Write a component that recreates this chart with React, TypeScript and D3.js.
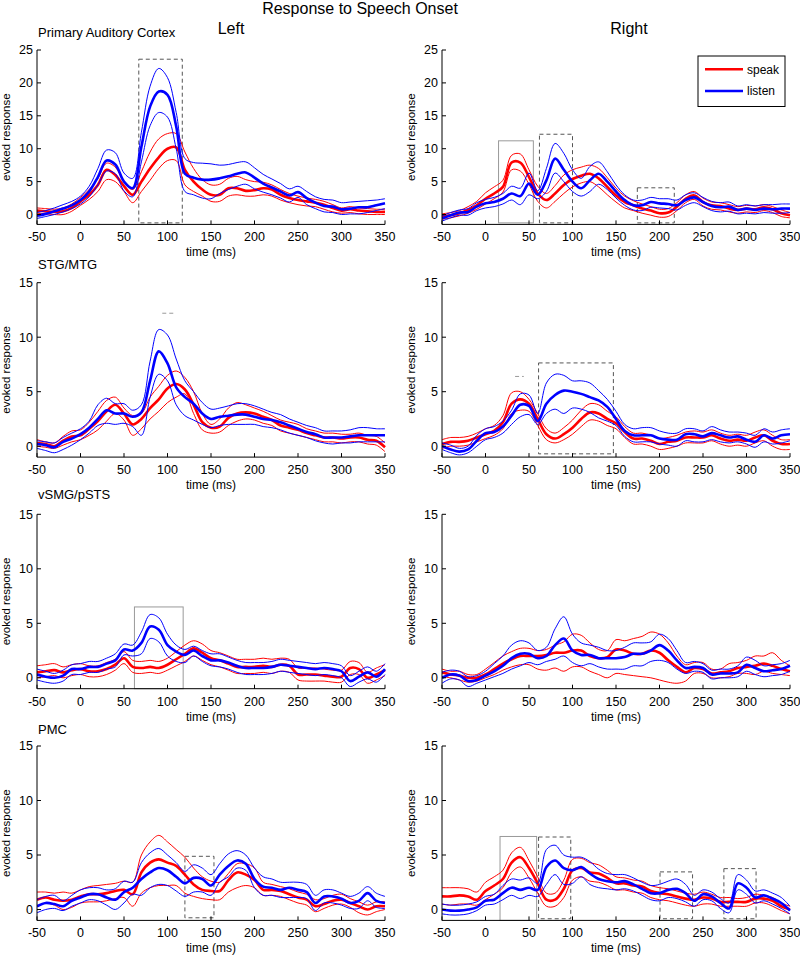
import * as d3 from "d3";

// time grid (ms) shared by every trace
const TIMES = [
  -50, -40, -30, -20, -10, 0, 10, 20, 30, 40, 50, 60, 70, 80, 90, 100, 110, 120, 130, 140, 150,
  160, 170, 180, 190, 200, 210, 220, 230, 240, 250, 260, 270, 280, 290, 300, 310, 320, 330, 340, 350,
];
const X_TICKS = [-50, 0, 50, 100, 150, 200, 250, 300, 350];
const Y_TICKS_PAC = [0, 5, 10, 15, 20, 25];
const Y_TICKS = [0, 5, 10, 15];
const REGIONS = ["Primary Auditory Cortex", "STG/MTG", "vSMG/pSTS", "PMC"];
const HEMISPHERES = ["Left", "Right"];
const SERIES = ["speak", "listen"];

// ---- Primary auditory cortex, left
const PAC_L_SPEAK = [0.6,0.5,0.4,0.5,1.0,2.0,3.0,4.5,6.8,6.0,4.3,3.0,5.0,7.0,8.7,10.0,10.2,6.8,5.0,3.8,3.0,3.0,4.0,4.0,3.6,3.7,4.0,3.8,3.0,2.5,2.2,2.0,1.8,1.5,1.0,0.6,0.8,0.6,0.5,0.4,0.4];
const PAC_L_SPEAK_HI = [1.0,0.9,0.8,1.0,1.6,2.6,3.8,5.5,7.8,7.2,5.0,3.8,6.5,9.5,11.5,12.3,12.3,9.5,7.0,5.3,4.5,4.6,5.5,5.8,5.3,5.0,4.9,4.5,3.8,3.2,2.8,2.5,2.3,2.0,1.5,1.0,1.2,1.0,0.9,0.8,0.8];
const PAC_L_SPEAK_LO = [0.2,0.1,0.0,0.0,0.5,1.4,2.3,3.5,5.3,5.0,3.5,1.8,3.5,5.2,7.0,8.2,8.2,4.5,3.5,2.8,2.0,2.0,2.8,3.0,2.8,2.8,3.0,2.8,2.2,1.8,1.5,1.3,1.2,0.8,0.4,0.2,0.3,0.1,0.0,0.0,0.0];
const PAC_L_LISTEN = [-0.2,0.1,0.5,0.9,1.4,2.2,3.5,5.7,8.2,7.6,5.0,4.0,10.3,16.4,18.7,18.2,13.4,6.2,5.6,5.3,5.3,5.5,5.8,6.2,6.4,5.6,4.7,4.1,3.5,2.9,3.4,2.5,1.8,1.3,1.2,0.8,0.9,1.1,1.1,1.4,1.7];
const PAC_L_LISTEN_HI = [0.3,0.6,1.0,1.5,2.0,2.8,4.3,7.0,9.8,9.4,6.3,5.5,12.5,19.5,22.2,20.8,15.5,8.5,7.9,7.8,7.7,7.5,7.6,7.9,8.0,7.1,6.1,5.4,4.7,3.9,4.3,3.5,2.7,2.3,2.2,1.8,1.9,2.0,2.1,2.2,2.4];
const PAC_L_LISTEN_LO = [-0.6,-0.3,0.0,0.4,0.9,1.6,2.7,4.5,6.6,6.2,3.6,2.7,8.0,13.5,15.5,14.8,10.0,3.5,3.0,2.5,2.4,3.2,3.8,4.3,4.6,3.9,3.4,3.0,2.5,1.9,2.6,1.5,0.9,0.4,0.3,0.0,0.1,0.1,0.3,0.6,0.9];

// ---- Primary auditory cortex, right
const PAC_R_SPEAK = [-0.3,-0.1,0.2,0.7,1.4,2.4,3.2,4.2,7.9,7.9,5.7,3.2,2.2,3.2,4.5,5.4,5.9,6.2,5.5,4.2,2.9,1.9,1.4,0.9,0.6,0.2,0.3,1.2,2.4,2.9,1.9,1.4,1.3,0.9,0.7,0.9,0.8,1.1,0.8,0.2,-0.1];
const PAC_R_SPEAK_HI = [0.1,0.3,0.6,1.2,2.0,3.3,4.2,5.2,9.0,9.2,6.8,4.3,3.2,4.4,6.0,6.8,7.2,7.5,7.0,5.6,4.0,2.8,2.1,1.6,1.2,0.8,0.9,1.8,3.0,3.5,2.5,1.9,1.8,1.5,1.2,1.4,1.3,1.5,1.2,0.7,0.3];
const PAC_R_SPEAK_LO = [-0.7,-0.5,-0.2,0.2,0.8,1.6,2.4,3.4,6.8,6.6,4.6,2.0,1.0,2.0,3.2,4.2,4.8,5.0,4.2,3.0,1.9,1.0,0.6,0.2,-0.1,-0.4,-0.3,0.6,1.8,2.3,1.3,0.8,0.7,0.4,0.2,0.4,0.3,0.6,0.3,-0.3,-0.5];
const PAC_R_LISTEN = [-0.6,-0.1,0.3,0.4,1.2,1.7,1.9,2.4,3.2,2.8,4.7,3.0,5.2,8.5,6.8,5.0,4.0,5.2,6.2,5.0,3.5,2.2,1.4,1.4,1.9,1.7,1.6,1.4,2.2,2.6,1.9,1.3,1.1,1.2,0.7,0.9,0.7,0.9,0.8,0.9,0.9];
const PAC_R_LISTEN_HI = [-0.2,0.3,0.7,0.9,1.8,2.3,2.6,3.2,4.3,4.0,6.3,3.6,7.0,10.8,9.3,6.8,5.5,7.3,8.0,6.5,4.5,3.0,2.2,2.2,2.6,2.4,2.4,2.2,3.0,3.3,2.6,2.0,1.8,1.9,1.3,1.5,1.3,1.5,1.5,1.6,1.6];
const PAC_R_LISTEN_LO = [-1.0,-0.5,-0.1,-0.1,0.6,1.0,1.2,1.6,2.2,1.5,3.0,2.4,3.5,6.3,5.0,3.5,2.8,3.5,4.6,3.8,2.5,1.4,0.7,0.6,1.1,1.0,0.9,0.7,1.4,1.8,1.2,0.6,0.4,0.5,0.1,0.2,0.1,0.3,0.2,0.2,0.3];

// ---- STG/MTG, left
const STG_L_SPEAK = [0.3,0.2,0.0,0.5,0.9,1.0,1.6,2.3,3.2,3.8,3.0,2.0,2.5,3.5,4.3,5.3,5.7,5.2,3.8,2.2,1.7,1.8,2.6,3.0,3.1,3.0,2.7,2.4,1.9,1.7,1.5,1.2,1.0,0.8,0.8,0.7,0.8,0.8,0.6,0.5,-0.1];
const STG_L_SPEAK_HI = [0.6,0.4,0.3,0.9,1.4,1.5,2.2,3.2,4.2,4.5,3.5,2.8,3.0,4.5,5.5,6.5,6.9,6.3,5.0,3.0,2.0,2.5,3.5,4.0,3.8,3.5,3.2,2.8,2.4,2.2,2.0,1.6,1.4,1.2,1.2,1.1,1.1,1.2,1.0,0.9,0.3];
const STG_L_SPEAK_LO = [0.0,-0.1,-0.2,0.1,0.4,0.6,1.0,1.5,2.3,3.0,2.4,1.0,1.6,2.5,3.2,4.0,4.5,4.8,3.0,1.5,1.2,1.3,1.9,2.3,2.5,2.4,2.1,1.9,1.4,1.2,1.0,0.8,0.6,0.4,0.4,0.3,0.4,0.4,0.2,0.1,-0.5];
const STG_L_LISTEN = [0.2,0.1,-0.1,0.4,0.7,1.1,1.7,2.5,3.3,3.0,3.0,2.7,3.1,6.0,8.7,7.6,5.4,4.5,3.9,3.0,2.5,2.7,2.8,2.9,2.9,2.7,2.5,2.4,2.2,1.9,1.6,1.3,1.1,0.8,0.8,0.8,0.9,1.0,1.0,1.0,1.0];
const STG_L_LISTEN_HI = [0.5,0.4,0.3,0.8,1.2,1.6,2.3,3.8,4.4,3.9,3.9,3.3,3.8,7.8,10.7,10.2,8.0,6.0,5.0,4.0,3.4,3.5,3.7,3.9,3.9,3.7,3.4,3.1,2.9,2.5,2.2,1.9,1.7,1.4,1.4,1.4,1.5,1.7,1.7,1.6,1.6];
const STG_L_LISTEN_LO = [-0.2,-0.4,-0.6,-0.3,0.1,0.6,1.2,1.9,2.1,2.0,2.1,1.8,1.0,4.5,6.6,6.0,3.8,2.8,2.4,2.0,1.7,1.9,2.0,2.0,2.0,2.0,1.8,1.7,1.5,1.2,1.0,0.8,0.5,0.3,0.2,0.3,0.3,0.4,0.4,0.4,0.4];

// ---- STG/MTG, right
const STG_R_SPEAK = [0.2,0.4,0.4,0.5,0.8,1.1,1.4,2.2,3.9,4.3,3.9,2.5,1.1,0.7,1.1,1.7,2.5,3.1,3.0,2.5,2.1,1.3,0.7,0.7,0.5,0.2,0.4,0.5,0.8,0.8,0.8,1.0,0.7,0.5,0.6,0.5,0.8,1.0,0.5,0.2,0.2];
const STG_R_SPEAK_HI = [0.6,0.8,0.8,0.9,1.2,1.6,1.9,2.8,4.9,5.0,4.3,3.0,1.6,1.2,1.7,2.4,3.3,3.9,3.8,3.2,2.7,1.8,1.2,1.2,1.0,0.7,0.8,1.0,1.3,1.4,1.3,1.5,1.2,1.0,1.1,1.0,1.3,1.5,1.0,0.6,0.6];
const STG_R_SPEAK_LO = [-0.2,0.0,0.0,0.1,0.4,0.7,1.0,1.6,3.0,3.3,3.2,1.9,0.6,0.3,0.6,1.1,1.8,2.4,2.3,1.9,1.6,0.8,0.2,0.2,0.0,-0.3,-0.2,0.0,0.3,0.3,0.3,0.5,0.2,0.0,0.1,0.0,0.3,0.5,0.0,-0.3,-0.3];
const STG_R_LISTEN = [0.0,-0.3,-0.5,-0.3,0.5,1.2,1.3,1.8,2.8,3.8,3.7,2.3,3.9,4.7,5.1,5.0,4.8,4.5,4.2,3.6,2.5,1.4,1.0,1.0,1.0,0.7,0.6,0.6,1.1,1.1,0.9,1.2,1.0,0.8,0.9,0.6,0.4,1.0,0.7,1.0,1.1];
const STG_R_LISTEN_HI = [0.3,0.1,-0.2,0.0,1.0,1.6,1.8,2.3,3.3,4.8,4.7,3.0,5.8,6.6,6.5,6.0,6.0,5.8,5.1,4.3,3.2,2.0,1.6,1.7,1.7,1.4,1.2,1.2,1.6,1.6,1.4,1.8,1.5,1.3,1.3,1.2,1.0,1.6,1.3,1.5,1.6];
const STG_R_LISTEN_LO = [-0.3,-0.6,-0.8,-0.6,0.0,0.6,0.8,1.2,2.0,2.7,2.9,2.0,3.0,3.4,3.0,3.5,3.4,3.1,2.6,2.3,1.9,0.9,0.4,0.4,0.4,0.2,0.1,0.0,0.5,0.4,0.4,0.6,0.4,0.3,0.4,0.2,-0.1,0.4,0.2,0.3,0.5];

// ---- vSMG/pSTS, left
const SMG_L_SPEAK = [0.5,0.6,0.7,0.5,0.7,0.8,0.6,0.6,0.8,1.2,1.8,1.0,0.9,1.0,0.9,1.2,1.7,2.2,2.7,2.3,1.8,1.6,1.3,1.0,1.0,1.0,1.1,1.0,1.2,1.1,0.3,0.3,0.3,0.2,0.1,0.1,0.9,0.8,0.0,0.3,0.7];
const SMG_L_SPEAK_HI = [1.1,1.2,1.3,1.0,1.2,1.3,1.1,1.1,1.4,1.7,2.4,1.6,1.5,1.6,1.5,1.8,2.4,3.0,3.4,3.1,2.5,2.3,2.0,1.7,1.7,1.7,1.8,1.7,1.8,1.7,0.9,0.9,0.9,0.8,0.7,0.7,1.5,1.4,0.5,0.9,1.2];
const SMG_L_SPEAK_LO = [0.0,0.1,0.2,0.0,0.2,0.3,0.1,0.1,0.3,0.7,1.3,0.5,0.4,0.5,0.4,0.7,1.1,1.5,2.0,1.6,1.2,1.0,0.7,0.4,0.4,0.4,0.5,0.4,0.6,0.5,-0.2,-0.3,-0.3,-0.3,-0.4,-0.4,0.3,0.3,-0.5,-0.2,0.2];
const SMG_L_LISTEN = [0.3,0.1,0.0,0.2,0.8,0.8,1.0,1.0,1.3,1.6,2.6,2.5,3.2,4.7,4.4,3.0,2.4,2.1,2.5,2.0,1.6,1.6,1.4,1.1,0.9,0.9,0.9,1.0,1.2,1.1,1.0,0.9,0.8,0.9,0.8,0.6,-0.3,0.1,0.5,0.1,0.8];
const SMG_L_LISTEN_HI = [0.8,0.6,0.4,0.7,1.2,1.3,1.5,1.5,1.8,2.2,3.1,3.0,4.2,5.8,5.5,4.0,3.0,2.6,2.9,2.5,2.2,2.2,1.9,1.6,1.4,1.4,1.4,1.5,1.7,1.6,1.5,1.4,1.3,1.4,1.3,1.1,0.2,0.6,1.0,0.6,1.3];
const SMG_L_LISTEN_LO = [-0.2,-0.4,-0.5,-0.3,0.3,0.3,0.5,0.5,0.8,1.0,2.1,2.0,2.2,3.6,3.3,2.0,1.5,1.4,2.0,1.5,1.1,1.0,0.8,0.5,0.3,0.3,0.3,0.4,0.6,0.5,0.4,0.3,0.2,0.3,0.2,0.0,-0.8,-0.4,-0.1,-0.4,0.3];

// ---- vSMG/pSTS, right
const SMG_R_SPEAK = [0.5,0.3,0.2,0.0,0.0,0.3,0.8,1.3,1.7,2.0,2.0,2.0,2.1,2.3,2.3,2.5,2.5,2.0,1.8,1.9,2.6,2.5,2.2,2.2,2.5,2.3,1.6,1.0,0.5,0.9,0.8,0.4,0.5,0.6,0.9,1.0,1.1,1.3,1.1,0.8,0.6];
const SMG_R_SPEAK_HI = [0.8,0.6,0.6,0.3,0.3,0.8,1.4,2.0,2.4,2.7,2.7,2.5,2.6,3.0,3.3,4.0,3.9,3.2,2.6,2.5,3.5,3.4,3.6,3.8,4.2,4.0,3.2,2.0,1.2,1.4,1.4,0.8,0.8,1.3,1.4,1.6,2.0,2.0,2.3,1.6,1.1];
const SMG_R_SPEAK_LO = [0.1,0.0,-0.2,-0.4,-0.3,0.0,0.3,0.7,1.0,1.2,1.2,0.8,0.7,0.9,0.6,1.0,1.0,0.6,0.3,0.0,0.4,0.3,0.2,0.1,0.0,-0.2,-0.4,-0.5,-0.3,0.4,0.4,0.0,0.0,0.1,0.4,0.4,0.3,0.6,0.4,0.3,0.2];
const SMG_R_LISTEN = [0.0,0.3,0.2,-0.3,-0.2,0.2,0.6,1.1,1.8,2.2,2.2,1.8,2.0,3.0,3.6,2.5,2.1,2.1,1.8,1.8,1.8,1.9,2.2,2.2,2.5,3.0,2.5,1.6,0.9,1.0,0.9,0.3,0.4,0.4,0.5,1.2,0.9,0.6,0.7,0.8,1.1];
const SMG_R_LISTEN_HI = [0.5,0.7,0.6,0.1,0.2,0.6,1.3,2.0,3.0,3.4,3.2,2.5,2.8,4.5,5.6,4.0,3.2,3.0,2.8,2.5,2.5,2.8,3.2,3.2,3.3,4.0,3.6,2.5,1.4,1.5,1.3,0.7,0.8,0.8,1.1,1.9,1.6,1.1,1.2,1.3,1.6];
const SMG_R_LISTEN_LO = [-0.5,-0.1,-0.2,-0.8,-0.5,-0.2,0.1,0.4,0.8,1.1,1.4,1.2,1.5,1.7,2.0,1.4,1.1,1.3,1.0,0.8,0.8,0.8,1.1,1.1,1.5,1.6,1.4,0.8,0.4,0.6,0.5,-0.1,0.0,0.0,0.1,0.6,0.3,0.1,0.2,0.3,0.6];

// ---- PMC, left
const PMC_L_SPEAK = [0.9,1.1,0.9,0.8,0.9,1.2,1.4,1.4,1.5,1.7,1.8,1.4,3.4,4.3,4.6,4.3,4.0,3.2,2.3,1.8,1.7,1.7,2.7,3.4,3.2,2.7,1.8,1.8,1.7,1.4,1.1,0.9,0.3,0.5,0.8,0.9,0.6,0.3,0.0,0.3,0.3];
const PMC_L_SPEAK_HI = [1.6,1.6,1.5,1.6,1.5,1.8,2.1,2.2,2.3,2.4,2.6,2.5,5.0,6.2,6.8,6.2,5.5,4.8,3.8,3.0,2.6,2.5,3.3,4.2,4.2,3.8,2.5,2.3,2.1,1.9,1.6,1.4,0.9,1.0,1.3,1.4,1.0,0.7,0.4,0.7,0.7];
const PMC_L_SPEAK_LO = [0.3,0.6,0.4,0.0,0.2,0.6,0.7,0.7,0.8,1.0,1.1,0.3,1.5,2.0,2.2,2.2,2.2,1.5,1.2,1.0,0.9,0.9,1.6,2.0,2.2,2.0,1.3,1.3,1.2,0.9,0.6,0.4,-0.2,0.1,0.4,0.5,0.2,-0.3,-0.5,-0.2,0.0];
const PMC_L_LISTEN = [0.3,0.6,0.5,0.3,0.8,1.1,1.4,1.4,1.1,0.9,1.6,2.0,2.8,3.4,3.8,3.6,3.0,2.4,2.9,2.8,2.2,3.2,4.0,4.5,4.2,2.8,2.1,2.0,1.8,2.0,1.8,1.6,0.6,1.2,1.2,1.0,0.6,0.8,1.5,0.8,0.6];
const PMC_L_LISTEN_HI = [0.9,1.2,1.3,0.8,1.3,1.8,2.0,2.0,1.8,1.9,2.6,2.5,4.3,5.2,5.6,5.0,4.3,3.5,4.1,3.8,3.2,4.2,5.1,5.4,5.0,3.8,3.0,2.8,2.5,2.5,2.5,2.3,1.3,1.8,1.8,1.5,1.2,1.5,2.1,1.5,1.2];
const PMC_L_LISTEN_LO = [-0.3,0.0,0.1,-0.1,0.3,0.6,0.9,0.8,0.4,0.0,0.6,1.4,1.3,2.0,2.3,2.2,1.7,1.2,1.6,1.6,1.3,2.5,3.0,3.8,3.6,2.0,1.3,1.3,1.1,1.1,1.1,1.0,-0.1,0.6,0.6,0.4,0.1,0.1,0.8,0.2,0.1];

// ---- PMC, right
const PMC_R_SPEAK = [1.2,1.2,1.3,1.2,0.9,1.7,2.2,2.8,4.3,4.8,3.8,2.4,0.9,0.9,1.9,3.6,3.8,3.4,3.3,2.9,2.4,2.4,2.2,2.1,1.7,1.5,1.4,1.2,1.0,0.9,1.1,1.0,0.7,0.7,0.7,0.7,1.0,1.0,0.8,0.3,0.0];
const PMC_R_SPEAK_HI = [2.0,2.0,2.0,1.9,1.6,2.5,3.0,3.6,5.2,5.7,4.5,3.0,1.5,1.5,2.7,4.6,4.7,4.3,4.1,3.6,3.0,2.9,2.7,2.6,2.2,2.0,1.9,1.7,1.5,1.4,1.6,1.4,1.1,1.1,1.0,1.1,1.4,1.3,1.1,0.6,0.3];
const PMC_R_SPEAK_LO = [0.5,0.4,0.5,0.5,0.4,0.9,1.4,2.0,3.4,3.9,2.9,1.5,0.3,0.3,1.1,2.7,3.0,2.6,2.5,2.2,1.8,1.8,1.6,1.5,1.1,0.9,0.8,0.6,0.4,0.3,0.5,0.5,0.3,0.3,0.3,0.3,0.6,0.6,0.3,-0.1,-0.4];
const PMC_R_LISTEN = [0.0,-0.1,-0.1,0.0,0.2,0.8,0.9,1.5,2.0,1.8,2.0,1.8,3.9,4.5,3.8,3.6,3.9,3.3,2.8,2.6,2.5,2.6,2.3,1.9,1.5,1.5,1.8,1.9,1.5,0.8,1.4,1.2,0.6,0.1,2.4,2.0,1.1,1.3,1.0,0.6,-0.1];
const PMC_R_LISTEN_HI = [0.5,0.4,0.4,0.5,0.7,1.2,1.4,2.2,2.8,2.7,2.9,2.4,5.5,5.9,5.0,4.8,4.8,4.4,3.7,3.3,3.2,3.2,2.9,2.5,2.2,2.3,2.6,2.8,2.3,1.3,1.8,1.6,1.0,0.6,3.2,2.7,1.7,1.8,1.5,1.1,0.3];
const PMC_R_LISTEN_LO = [-0.4,-0.5,-0.5,-0.4,-0.1,0.4,0.5,0.9,1.3,1.0,1.3,1.2,2.3,3.2,2.3,2.4,3.0,2.3,2.0,1.9,1.8,1.9,1.7,1.3,0.9,0.8,1.1,1.0,0.7,0.3,0.9,0.8,0.1,-0.3,1.8,1.4,0.6,0.8,0.5,0.1,-0.4];

// significance windows: [start ms, end ms, top, bottom, dashed]
type Win = [number, number, number, number, boolean];
const PAC_L_WIN: Win[] = [[67, 117, 23.6, -1.27, true]];
const PAC_R_WIN: Win[] = [[15, 55, 11.2, -1.27, false], [62, 100, 12.2, -1.27, true], [174.5, 217, 4.06, -1.27, true]];
const STG_L_WIN: Win[] = [];
const STG_R_WIN: Win[] = [[61, 147, 7.64, -0.7, true]];
const SMG_L_WIN: Win[] = [[62, 118, 6.5, -1, false]];
const SMG_R_WIN: Win[] = [];
const PMC_L_WIN: Win[] = [[120, 153.4, 4.88, -0.76, true]];
const PMC_R_WIN: Win[] = [[16.7, 58.8, 6.7, -1, false], [61, 98, 6.65, -0.85, true], [200.6, 238, 3.45, -0.85, true], [274, 311, 3.75, -0.85, true]];
// small stray dash marks: [start ms, end ms, level]
const STG_L_DASH = [[94, 108, 12.2]];
const STG_R_DASH = [[34, 44, 6.4]];

const PANELS = [
  { row: 0, col: 0, speak: [PAC_L_SPEAK, PAC_L_SPEAK_HI, PAC_L_SPEAK_LO], listen: [PAC_L_LISTEN, PAC_L_LISTEN_HI, PAC_L_LISTEN_LO], win: PAC_L_WIN, dash: [] },
  { row: 0, col: 1, speak: [PAC_R_SPEAK, PAC_R_SPEAK_HI, PAC_R_SPEAK_LO], listen: [PAC_R_LISTEN, PAC_R_LISTEN_HI, PAC_R_LISTEN_LO], win: PAC_R_WIN, dash: [] },
  { row: 1, col: 0, speak: [STG_L_SPEAK, STG_L_SPEAK_HI, STG_L_SPEAK_LO], listen: [STG_L_LISTEN, STG_L_LISTEN_HI, STG_L_LISTEN_LO], win: STG_L_WIN, dash: STG_L_DASH },
  { row: 1, col: 1, speak: [STG_R_SPEAK, STG_R_SPEAK_HI, STG_R_SPEAK_LO], listen: [STG_R_LISTEN, STG_R_LISTEN_HI, STG_R_LISTEN_LO], win: STG_R_WIN, dash: STG_R_DASH },
  { row: 2, col: 0, speak: [SMG_L_SPEAK, SMG_L_SPEAK_HI, SMG_L_SPEAK_LO], listen: [SMG_L_LISTEN, SMG_L_LISTEN_HI, SMG_L_LISTEN_LO], win: SMG_L_WIN, dash: [] },
  { row: 2, col: 1, speak: [SMG_R_SPEAK, SMG_R_SPEAK_HI, SMG_R_SPEAK_LO], listen: [SMG_R_LISTEN, SMG_R_LISTEN_HI, SMG_R_LISTEN_LO], win: SMG_R_WIN, dash: [] },
  { row: 3, col: 0, speak: [PMC_L_SPEAK, PMC_L_SPEAK_HI, PMC_L_SPEAK_LO], listen: [PMC_L_LISTEN, PMC_L_LISTEN_HI, PMC_L_LISTEN_LO], win: PMC_L_WIN, dash: [] },
  { row: 3, col: 1, speak: [PMC_R_SPEAK, PMC_R_SPEAK_HI, PMC_R_SPEAK_LO], listen: [PMC_R_LISTEN, PMC_R_LISTEN_HI, PMC_R_LISTEN_LO], win: PMC_R_WIN, dash: [] },
];

// layout of the axes (pixels)
const COL_X = [[37, 385], [442, 790]];
const ROW_Y = [[50, 224.4], [282.7, 457.1], [514.3, 688.7], [746, 920.4]];
const RED = "#ff0000";
const BLUE = "#0000ff";
const FONT = "'Liberation Sans', Arial, Helvetica, sans-serif";

function Panel({ p }: { p: (typeof PANELS)[number] }) {
  const [x0, x1] = COL_X[p.col];
  const [top, bottom] = ROW_Y[p.row];
  const isPac = p.row === 0;
  const x = d3.scaleLinear().domain([-50, 350]).range([x0, x1]);
  const y = d3.scaleLinear().domain(isPac ? [-1.5, 25] : [-1, 15]).range([bottom, top]);
  const yTicks = isPac ? Y_TICKS_PAC : Y_TICKS;
  const line = d3
    .line<number>()
    .x((_, i) => x(TIMES[i]))
    .y((d) => y(d))
    .curve(d3.curveCatmullRom.alpha(0.5));
  const clipId = `clip-${p.row}-${p.col}`;
  const cx = (x0 + x1) / 2;

  return (
    <g>
      <defs>
        <clipPath id={clipId}>
          <rect x={x0} y={top - 2} width={x1 - x0 + 2} height={bottom - top + 2} />
        </clipPath>
      </defs>
      {p.win.map(([t0, t1, hi, lo, dashed], i) => (
        <rect
          key={i}
          x={x(t0)}
          y={y(hi)}
          width={x(t1) - x(t0)}
          height={y(lo) - y(hi)}
          fill="none"
          stroke={dashed ? "#555" : "#999"}
          strokeWidth={1}
          strokeDasharray={dashed ? "4,3" : undefined}
        />
      ))}
      {p.dash.map(([t0, t1, v], i) => (
        <line key={i} x1={x(t0)} x2={x(t1)} y1={y(v)} y2={y(v)} stroke="#999" strokeDasharray="4,3" />
      ))}
      <g clipPath={`url(#${clipId})`} fill="none" strokeLinejoin="round">
        {[p.speak, p.listen].map((s, k) => (
          <g key={k} stroke={k === 0 ? RED : BLUE}>
            <path d={line(s[1]) ?? ""} strokeWidth={1} />
            <path d={line(s[2]) ?? ""} strokeWidth={1} />
            <path d={line(s[0]) ?? ""} strokeWidth={2.6} />
          </g>
        ))}
      </g>
      {/* axes */}
      <line x1={x0} x2={x0} y1={top} y2={bottom} stroke="#000" />
      <line x1={x0} x2={x1} y1={bottom} y2={bottom} stroke="#000" />
      {yTicks.map((t) => (
        <g key={t}>
          <line x1={x0} x2={x0 + 4} y1={y(t)} y2={y(t)} stroke="#000" />
          <text x={x0 - 4} y={y(t)} dy="0.35em" textAnchor="end" fontSize={12.5}>
            {t}
          </text>
        </g>
      ))}
      {X_TICKS.map((t) => (
        <g key={t}>
          <line x1={x(t)} x2={x(t)} y1={bottom} y2={bottom - 4} stroke="#000" />
          <text x={x(t)} y={bottom + 17} textAnchor="middle" fontSize={12.5}>
            {t}
          </text>
        </g>
      ))}
      <text x={cx} y={bottom + 32} textAnchor="middle" fontSize={12}>
        time (ms)
      </text>
      <text
        transform={`translate(${x0 - 27},${(top + bottom) / 2}) rotate(-90)`}
        textAnchor="middle"
        fontSize={11.5}
      >
        evoked response
      </text>
    </g>
  );
}

export default function App() {
  const titleY = [37.3, 269.3, 499.3, 734];
  return (
    <svg
      width={800}
      height={956}
      style={{ position: "absolute", left: 0, top: 0, background: "#fff" }}
      fontFamily={FONT}
    >
      <rect width={800} height={956} fill="#fff" />
      <text x={360} y={13.5} textAnchor="middle" fontSize={16}>
        Response to Speech Onset
      </text>
      {HEMISPHERES.map((h, i) => (
        <text key={h} x={i === 0 ? 231 : 629} y={34} textAnchor="middle" fontSize={16}>
          {h}
        </text>
      ))}
      {REGIONS.map((r, i) => (
        <text key={r} x={38} y={titleY[i]} fontSize={13}>
          {r}
        </text>
      ))}
      {PANELS.map((p) => (
        <Panel key={`${p.row}-${p.col}`} p={p} />
      ))}
      {/* legend */}
      <g>
        <rect x={698} y={56} width={87} height={50.5} fill="#fff" stroke="#000" />
        {SERIES.map((s, i) => (
          <g key={s}>
            <line x1={705} x2={743} y1={69.3 + i * 21.7} y2={69.3 + i * 21.7} stroke={i === 0 ? RED : BLUE} strokeWidth={2.6} />
            <text x={747} y={69.3 + i * 21.7} dy="0.35em" fontSize={12}>
              {s}
            </text>
          </g>
        ))}
      </g>
    </svg>
  );
}
